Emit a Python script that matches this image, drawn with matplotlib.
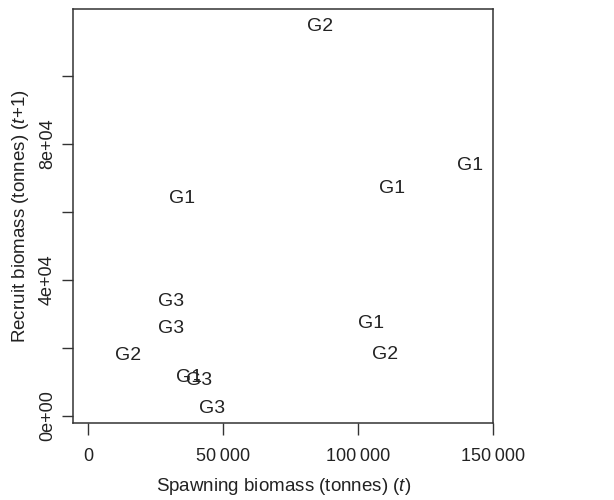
import matplotlib
matplotlib.use("Agg")
import matplotlib.pyplot as plt
from matplotlib.ticker import FixedLocator, FuncFormatter

plt.rcParams['font.family'] = ['Liberation Sans', 'DejaVu Sans']
plt.rcParams['mathtext.fontset'] = 'custom'
plt.rcParams['mathtext.rm'] = 'Liberation Sans'
plt.rcParams['mathtext.it'] = 'Liberation Sans:italic'

# Data (spawning biomass t, recruit biomass t+1, group label)
spawning = [86000, 141600, 112600, 34700, 30650, 30900, 14700, 37300, 41300, 45800, 105100, 110100]
recruit = [114700, 73600, 66800, 64000, 33600, 25800, 17700, 11300, 10300, 2150, 27300, 18100]
groups = ['G2', 'G1', 'G1', 'G1', 'G3', 'G3', 'G2', 'G1', 'G3', 'G3', 'G1', 'G2']

x_ticks = [0, 50000, 100000, 150000]
y_ticks = [0, 20000, 40000, 60000, 80000, 100000]
y_tick_labels = ['0e+00', '', '4e+04', '', '8e+04', '']

fig = plt.figure(figsize=(6.14, 5.0), dpi=100)
ax = fig.add_axes([0.1194, 0.1546, 0.684, 0.8274])

ink = '#222222'
for xv, yv, g in zip(spawning, recruit, groups):
    ax.text(xv, yv, g, ha='center', va='center', fontsize=14, color=ink)

ax.set_xlim(-5450, 150220)
ax.set_ylim(-1970, 119700)

ax.xaxis.set_major_locator(FixedLocator(x_ticks))
ax.xaxis.set_major_formatter(FuncFormatter(lambda v, p: f"{int(v):,}".replace(',', '\u2009')))
ax.yaxis.set_major_locator(FixedLocator(y_ticks))
ax.set_yticklabels(y_tick_labels, rotation=90, va='center')

for s in ax.spines.values():
    s.set_color('#333333')
    s.set_linewidth(1.1)

ax.tick_params(axis='both', direction='out', length=8, width=1.0, color='#333333',
               labelsize=13, labelcolor=ink)
ax.tick_params(axis='x', length=8.5, pad=9.5)
ax.tick_params(axis='y', pad=4.5)

ax.set_xlabel(r'Spawning biomass (tonnes) ($\mathit{t}$)', fontsize=13.5, color=ink, labelpad=8)
ax.set_ylabel(r'Recruit biomass (tonnes) ($\mathit{t{+}1}$)', fontsize=13.5, color=ink, labelpad=6)

fig.savefig('out.png', dpi=100)
